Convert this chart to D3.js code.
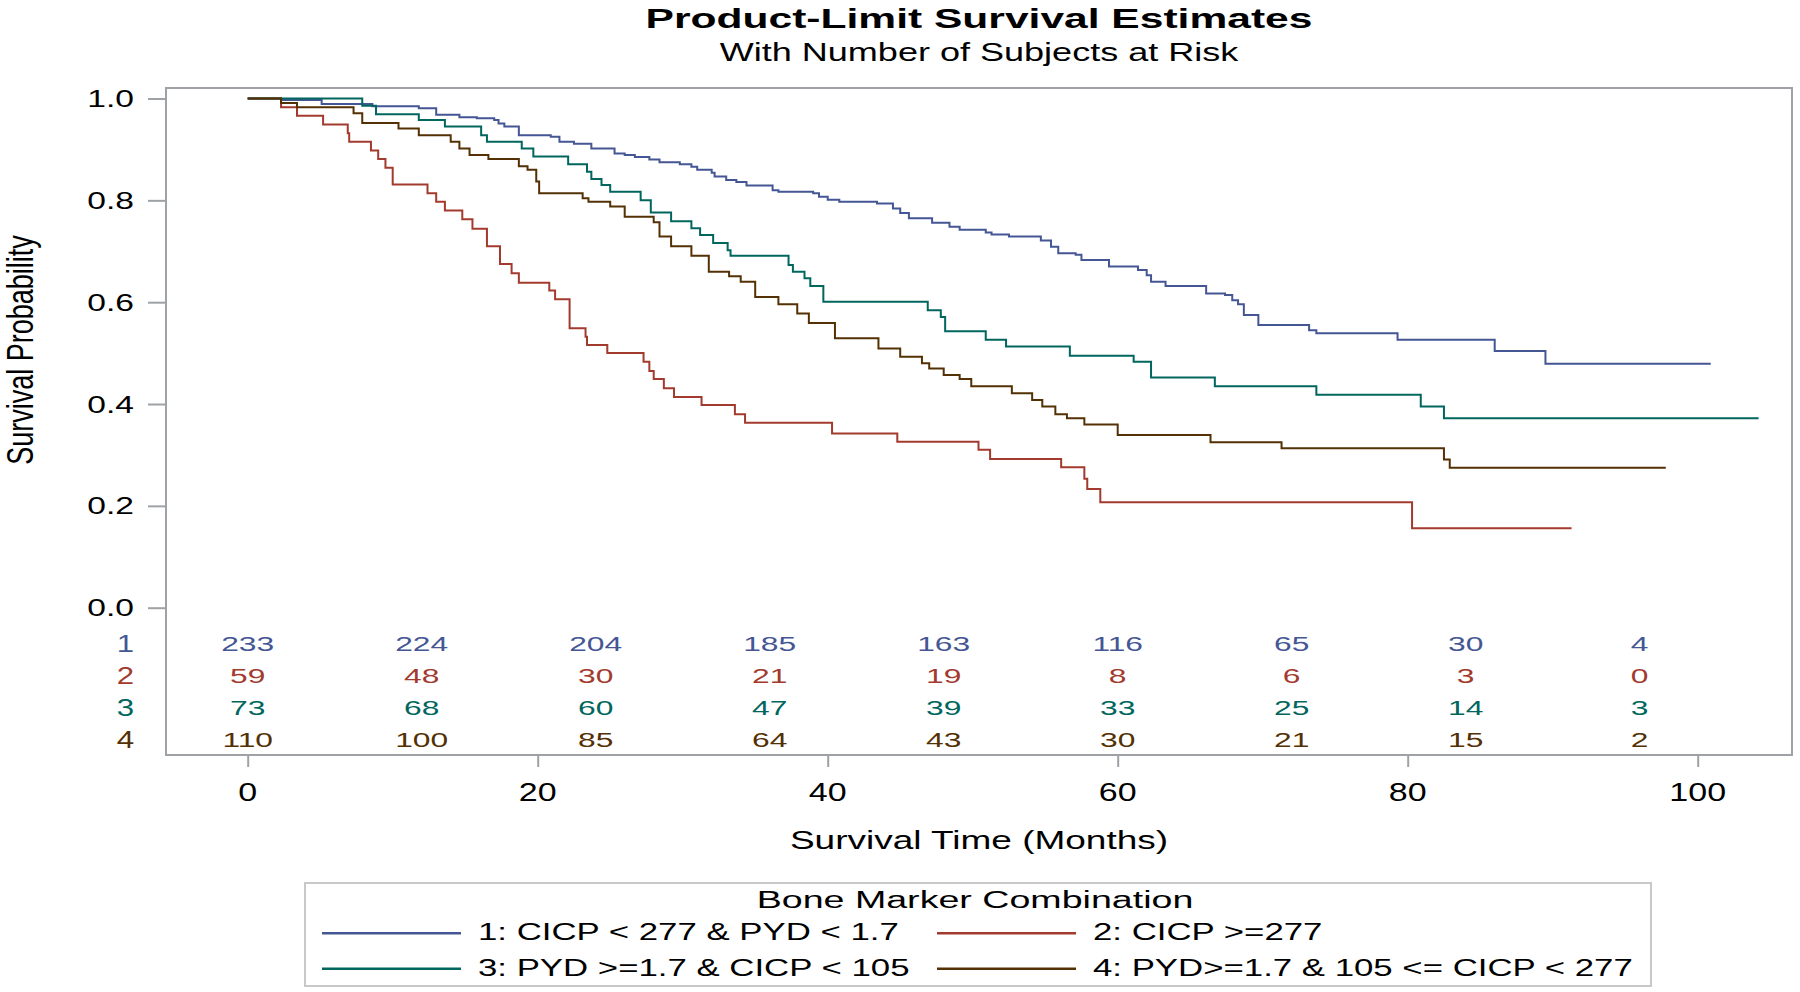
<!DOCTYPE html>
<html><head><meta charset="utf-8">
<script src="https://cdn.jsdelivr.net/npm/d3@7"></script>
<style>body{margin:0;background:#fff}svg{display:block}</style>
</head><body><svg id="c" width="1800" height="992"></svg>
<script>
// ---------------- data ----------------
const groupIds = ["1", "2", "3", "4"];
const legendLabels = [
  "1: CICP < 277 & PYD < 1.7",
  "2: CICP >=277",
  "3: PYD >=1.7 & CICP < 105",
  "4: PYD>=1.7 & 105 <= CICP < 277"
];
const groupColors = ["#445694", "#A23A2E", "#01665E", "#543005"];

const g1Time = [0,2.3,5.1,8.6,11.8,13.0,14.6,15.8,17.0,17.3,17.7,18.7,20.9,21.5,22.5,23.7,25.3,26.0,26.7,27.7,28.4,29.8,30.6,31.0,32.0,32.2,33.0,33.7,34.4,36.2,36.6,39.0,39.4,40.0,40.8,43.4,44.5,45.0,45.6,47.2,48.4,49.1,50.9,51.3,52.5,54.7,55.4,55.9,57.1,57.5,59.4,61.4,62.0,62.3,63.3,66.1,67.4,67.9,68.3,68.7,69.7,73.2,73.7,79.3,86.0,89.5];
const g1Surv = [1,0.997,0.989,0.985,0.981,0.968,0.963,0.961,0.958,0.951,0.945,0.928,0.925,0.915,0.911,0.902,0.892,0.889,0.885,0.880,0.875,0.871,0.866,0.860,0.854,0.847,0.840,0.836,0.829,0.820,0.817,0.814,0.807,0.801,0.797,0.794,0.784,0.775,0.765,0.756,0.748,0.742,0.737,0.733,0.729,0.721,0.709,0.696,0.693,0.683,0.670,0.663,0.653,0.640,0.632,0.617,0.614,0.604,0.596,0.575,0.555,0.545,0.539,0.526,0.504,0.479];
const g1End = 100.9;

const g2Time = [0,2.3,3.4,5.2,6.9,7.0,8.5,9.0,9.5,10.0,12.4,13.0,13.6,14.8,15.5,16.5,17.4,18.2,18.7,20.8,21.2,22.2,23.3,23.4,24.8,27.3,27.7,28.0,28.7,29.4,31.3,33.6,34.3,40.3,44.8,50.4,51.2,56.1,57.7,57.9,58.8,80.3];
const g2Surv = [1,0.983,0.966,0.949,0.932,0.915,0.898,0.881,0.864,0.831,0.814,0.797,0.780,0.763,0.744,0.710,0.675,0.657,0.638,0.623,0.606,0.549,0.532,0.516,0.500,0.483,0.465,0.449,0.431,0.414,0.398,0.380,0.363,0.342,0.326,0.310,0.292,0.276,0.253,0.233,0.207,0.156];
const g2End = 91.3;

const g3Time = [0,7.9,8.85,11.8,13.6,16.1,16.5,18.9,19.7,22.1,23.4,23.7,24.4,25.0,27.1,27.8,29.2,30.6,31.2,32.1,33.1,33.3,37.3,37.6,38.4,38.8,39.7,46.9,47.8,48.1,50.9,52.3,56.7,61.1,62.3,66.7,73.7,80.9,82.5];
const g3Surv = [1,0.986,0.969,0.958,0.945,0.928,0.915,0.902,0.886,0.871,0.856,0.842,0.830,0.817,0.800,0.776,0.759,0.745,0.732,0.716,0.702,0.691,0.673,0.660,0.647,0.632,0.601,0.584,0.571,0.543,0.526,0.513,0.495,0.483,0.452,0.435,0.418,0.395,0.372];
const g3End = 104.2;

const g4Time = [0,2.3,3.4,7.3,7.9,10.4,11.8,14.0,14.6,15.3,16.6,18.7,19.3,19.9,20.1,23.1,23.5,25.0,26.0,28.0,28.4,29.2,30.6,31.8,33.2,34.0,35.0,36.6,37.9,38.7,40.5,43.5,45.0,46.5,47.0,48.0,49.1,49.9,52.7,54.1,54.8,55.7,56.5,57.7,60.0,66.4,71.3,82.5,82.9];
const g4Surv = [1,0.991,0.983,0.971,0.952,0.941,0.928,0.915,0.902,0.889,0.881,0.867,0.860,0.837,0.814,0.804,0.797,0.788,0.768,0.757,0.729,0.710,0.691,0.660,0.651,0.640,0.610,0.596,0.578,0.559,0.529,0.509,0.493,0.480,0.470,0.457,0.449,0.435,0.421,0.408,0.395,0.380,0.372,0.360,0.339,0.325,0.313,0.291,0.275];
const g4End = 97.8;

const atRiskTimes = [0,12,24,36,48,60,72,84,96];
const atRisk1 = [233,224,204,185,163,116,65,30,4];
const atRisk2 = [59,48,30,21,19,8,6,3,0];
const atRisk3 = [73,68,60,47,39,33,25,14,3];
const atRisk4 = [110,100,85,64,43,30,21,15,2];

const xTicks = [0,20,40,60,80,100];
const yTicks = [0,0.2,0.4,0.6,0.8,1.0];

const titleText = "Product-Limit Survival Estimates";
const subtitleText = "With Number of Subjects at Risk";
const xTitle = "Survival Time (Months)";
const yTitle = "Survival Probability";
const legendTitle = "Bone Marker Combination";

// ---------------- drawing ----------------
const FONT = "'Liberation Sans', Arial, Helvetica, sans-serif";
const svg = d3.select("#c");
const AXIS = "#9ea2a6";

const x = d3.scaleLinear().domain([0, 100]).range([247.7, 1697.7]);
const y = d3.scaleLinear().domain([0, 1]).range([607.7, 98.5]);

function stext(parent, px, py, str, o) {
  const g = parent.append("g")
    .attr("transform", `translate(${px},${py}) scale(${o.sx || 1},1)` + (o.rot ? ` rotate(${o.rot})` : ""));
  g.append("text")
    .attr("text-anchor", o.anchor || "middle")
    .attr("font-family", FONT)
    .attr("font-size", o.size)
    .attr("font-weight", o.weight || "normal")
    .attr("fill", o.fill || "#000")
    .text(str);
  return g;
}

// titles
stext(svg, 979, 27.5, titleText, {size: 28, sx: 1.52, weight: "bold"});
stext(svg, 979, 60.5, subtitleText, {size: 26.5, sx: 1.36});

// frame
svg.append("rect").attr("x", 166).attr("y", 88).attr("width", 1626).attr("height", 667)
  .attr("fill", "none").attr("stroke", AXIS).attr("stroke-width", 2);

// axes (tick marks)
const yAxis = svg.append("g").attr("transform", "translate(166,0)")
  .call(d3.axisLeft(y).tickValues(yTicks).tickSize(18).tickFormat(() => ""));
const xAxis = svg.append("g").attr("transform", "translate(0,755)")
  .call(d3.axisBottom(x).tickValues(xTicks).tickSize(12).tickFormat(() => ""));
[yAxis, xAxis].forEach(a => {
  a.select(".domain").remove();
  a.selectAll(".tick line").attr("stroke", AXIS).attr("stroke-width", 2);
});

// tick labels
yTicks.forEach(v => stext(svg, 134, y(v) + 8.6, d3.format(".1f")(v), {size: 24, sx: 1.4, anchor: "end"}));
xTicks.forEach(v => stext(svg, x(v), 801, String(v), {size: 25, sx: 1.36}));

// axis titles
stext(svg, 979, 848.5, xTitle, {size: 25, sx: 1.48});
stext(svg, 33.3, 350, yTitle, {size: 27, sx: 1.4, rot: -90});

// curves
const groups = [
  {t: g1Time, s: g1Surv, end: g1End},
  {t: g2Time, s: g2Surv, end: g2End},
  {t: g3Time, s: g3Surv, end: g3End},
  {t: g4Time, s: g4Surv, end: g4End}
];
const line = d3.line().x(d => x(d[0])).y(d => y(d[1])).curve(d3.curveStepAfter);
groups.forEach((g, i) => {
  const pts = g.t.map((t, j) => [t, g.s[j]]);
  pts.push([g.end, g.s[g.s.length - 1]]);
  svg.append("path").datum(pts).attr("d", line)
    .attr("fill", "none").attr("stroke", groupColors[i]).attr("stroke-width", 2)
    .attr("stroke-linejoin", "miter");
});

// at-risk table
const atRisk = [atRisk1, atRisk2, atRisk3, atRisk4];
const rowY = d3.scalePoint().domain(groupIds).range([643.3, 739.3]);
groupIds.forEach((id, i) => {
  const base = rowY(id) + 7.3;
  stext(svg, 125.5, rowY(id) + 8.6, id, {size: 24, sx: 1.3, fill: groupColors[i]});
  atRiskTimes.forEach((t, j) => {
    stext(svg, x(t), base, String(atRisk[i][j]), {size: 20.5, sx: 1.55, fill: groupColors[i]});
  });
});

// legend
svg.append("rect").attr("x", 305).attr("y", 883).attr("width", 1346).attr("height", 103)
  .attr("fill", "none").attr("stroke", "#c8c8c8").attr("stroke-width", 2);
stext(svg, 975, 908.3, legendTitle, {size: 23.5, sx: 1.6});
const legCols = [322, 937];
const legRows = [933.3, 968.7];
legendLabels.forEach((lab, i) => {
  const cx = legCols[i % 2], cy = legRows[Math.floor(i / 2)];
  svg.append("line").attr("x1", cx).attr("x2", cx + 139).attr("y1", cy).attr("y2", cy)
    .attr("stroke", groupColors[i]).attr("stroke-width", 2.5);
  stext(svg, cx + 156, cy + 7, lab, {size: 24, sx: 1.45, anchor: "start"});
});
</script></body></html>
